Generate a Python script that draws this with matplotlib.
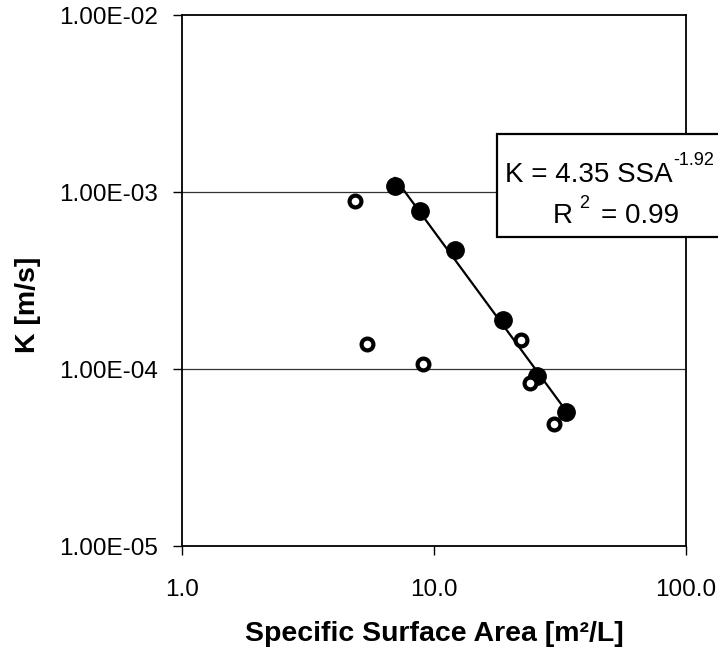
import numpy as np
import matplotlib.pyplot as plt
from matplotlib.patches import Rectangle
from matplotlib.ticker import FixedLocator, FuncFormatter, NullLocator

plt.rcParams['font.family'] = 'Liberation Sans'

# filled symbols (used for the power-law fit)
ssa_fit = [6.99, 8.80, 12.07, 18.74, 25.6, 33.3]
k_fit = [1.086e-3, 7.77e-4, 4.72e-4, 1.88e-4, 9.08e-5, 5.71e-5]

# open symbols
ssa_other = [4.87, 5.40, 9.05, 22.1, 23.95, 29.8]
k_other = [8.93e-4, 1.38e-4, 1.07e-4, 1.46e-4, 8.34e-5, 4.89e-5]

x_ticks = [1.0, 10.0, 100.0]
y_ticks = [1e-5, 1e-4, 1e-3, 1e-2]

W, H = 718, 655
fig = plt.figure(figsize=(W / 100, H / 100), dpi=100)
ax = fig.add_axes([182 / W, 1 - 546 / H, (686 - 182) / W, (546 - 15) / H])

ax.set_xscale('log')
ax.set_yscale('log')
ax.set_xlim(1, 100)
ax.set_ylim(1e-5, 1e-2)

# horizontal gridlines at the inner decades
for yv in y_ticks[1:-1]:
    ax.axhline(yv, color='#333333', lw=0.9, zorder=1)

# power trendline through the filled points
slope, icpt = np.polyfit(np.log10(ssa_fit), np.log10(k_fit), 1)
xl = np.array([min(ssa_fit), max(ssa_fit)])
ax.plot(xl, 10 ** (icpt + slope * np.log10(xl)), color='black', lw=1.6, zorder=2)

ax.plot(ssa_fit, k_fit, 'o', color='black', ms=12.5, zorder=3)
ax.plot(ssa_other, k_other, 'o', mfc='white', mec='black', ms=8.5, mew=3, zorder=4)

ax.xaxis.set_major_locator(FixedLocator(x_ticks))
ax.xaxis.set_minor_locator(NullLocator())
ax.yaxis.set_major_locator(FixedLocator(y_ticks))
ax.yaxis.set_minor_locator(NullLocator())
ax.xaxis.set_major_formatter(FuncFormatter(lambda v, p: f"{v:.1f}"))
ax.yaxis.set_major_formatter(FuncFormatter(lambda v, p: f"{v:.2E}"))
ax.tick_params(axis='x', length=6.5, width=1, pad=17, labelsize=17.5)
ax.tick_params(axis='y', length=6.5, width=1, pad=11, labelsize=17.5)

for s in ax.spines.values():
    s.set_linewidth(1.3)

ax.set_xlabel('Specific Surface Area [m²/L]', fontsize=20.5, fontweight='bold', labelpad=15)
ax.set_ylabel('K [m/s]', fontsize=20.5, fontweight='bold', va='center')
ax.yaxis.set_label_coords((28 - 182) / 504, (546 - 305) / 531)

# equation box, runs off the right edge of the figure
box = Rectangle((497 / W, 1 - 237 / H), 240 / W, 103 / H, transform=fig.transFigure,
                facecolor='white', edgecolor='black', lw=1.6, zorder=10)
fig.add_artist(box)

eq = fig.text(505 / W, 1 - 182 / H, 'K = 4.35 SSA', fontsize=20,
              ha='left', va='baseline', zorder=11)
r2 = fig.text(553 / W, 1 - 223 / H, 'R', fontsize=20,
              ha='left', va='baseline', zorder=11)
fig.canvas.draw()
rend = fig.canvas.get_renderer()
e_box = eq.get_window_extent(rend)
r_box = r2.get_window_extent(rend)
fig.text((e_box.x1 + 1) / W, 1 - 165 / H, '-1.92', fontsize=13,
         ha='left', va='baseline', zorder=11)
fig.text((r_box.x1 + 6) / W, 1 - 208 / H, '2', fontsize=13,
         ha='left', va='baseline', zorder=11)
fig.text(601 / W, 1 - 223 / H, '= 0.99', fontsize=20,
         ha='left', va='baseline', zorder=11)

fig.savefig('out.png', dpi=100)
